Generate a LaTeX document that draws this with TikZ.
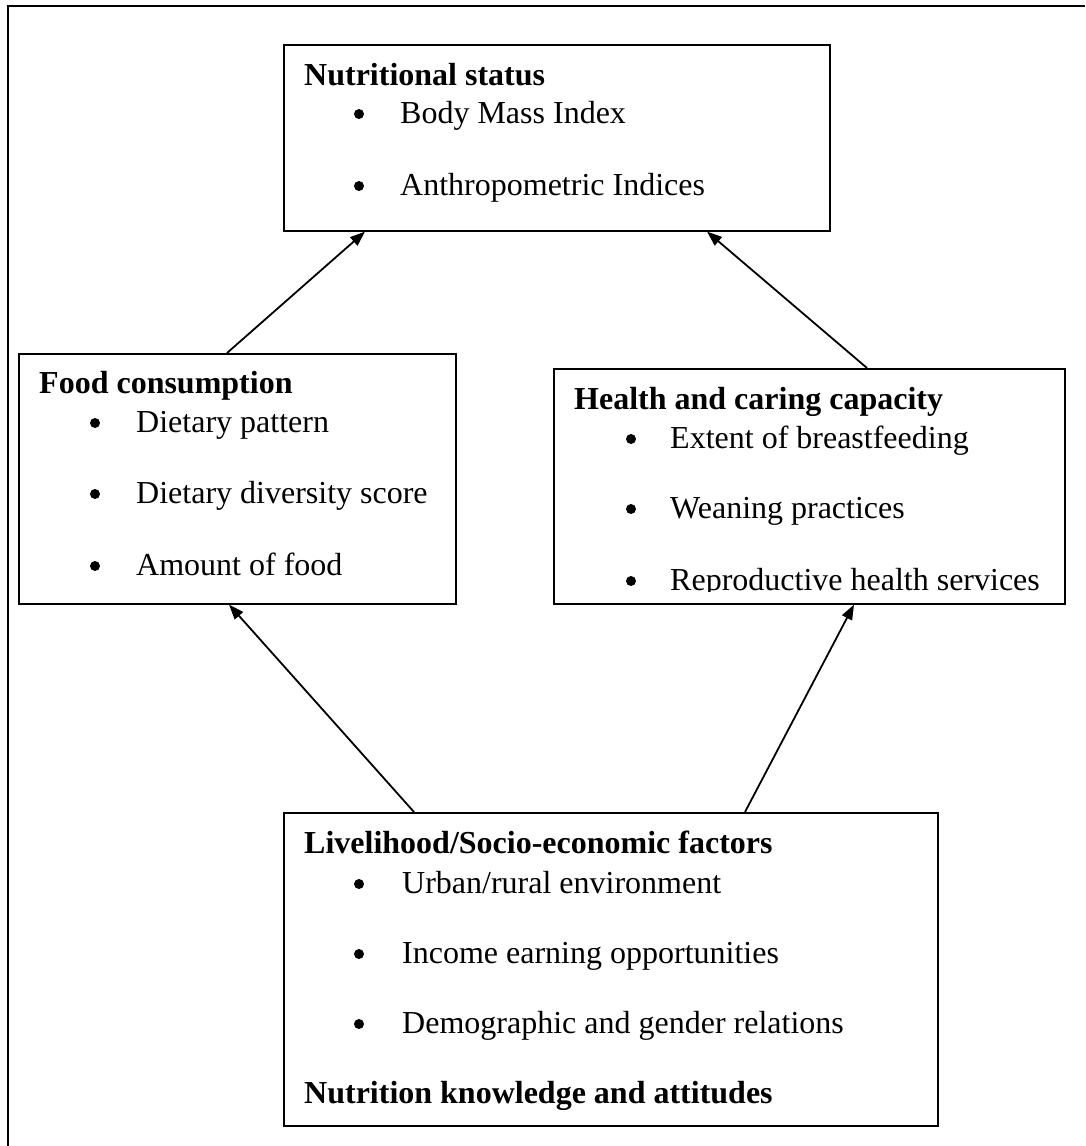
\documentclass[tikz,border=0pt]{standalone}
\usepackage{fontspec}
\setmainfont{Liberation Serif}
\usetikzlibrary{arrows.meta,calc}
\tikzset{
  box/.style={draw=black, line width=1.6pt, rectangle, inner sep=0pt, anchor=north west},
  txt/.style={anchor=base west, inner sep=0pt, font=\fontsize{32}{38}\selectfont},
  ttl/.style={txt, font=\fontsize{32}{38}\selectfont\bfseries},
  arr/.style={line width=1.8pt, -{Triangle[length=15pt,width=11pt]}},
  dot/.style={circle, fill=black, inner sep=0pt, minimum size=10pt}
}
\begin{document}
\begin{tikzpicture}[x=1pt,y=-1pt]
\useasboundingbox (0,0) rectangle (1085,1146);
% page frame (right and bottom sides are outside the picture)
\draw[line width=2pt] (1085,6) -- (8,6) -- (8,1146);

% boxes
\node[box, minimum width=546pt, minimum height=186pt] (nut) at (283,44) {};
\node[box, minimum width=437pt, minimum height=250pt] (food) at (18,353) {};
\node[box, minimum width=511pt, minimum height=235pt] (health) at (553,368) {};
\node[box, minimum width=654pt, minimum height=313pt] (live) at (283,812) {};

% Nutritional status
\node[ttl] (nt) at (304,85) {Nutritional status};
\node[dot] (nb1) at (359,114) {};
\node[txt] (n1) at (400,123) {Body Mass Index};
\node[dot] (nb2) at (359,186) {};
\node[txt] (n2) at (400,195) {Anthropometric Indices};

% Food consumption
\node[ttl] (ft) at (39,393) {Food consumption};
\node[dot] (fb1) at (95,423) {};
\node[txt] (f1) at (136,432) {Dietary pattern};
\node[dot] (fb2) at (95,494) {};
\node[txt] (f2) at (136,503) {Dietary diversity score};
\node[dot] (fb3) at (95,566) {};
\node[txt] (f3) at (136,575) {Amount of food};

% Health and caring capacity
\node[ttl] (ht) at (574,409) {Health and caring capacity};
\node[dot] (hb1) at (631,439) {};
\node[txt] (h1) at (670,448) {Extent of breastfeeding};
\node[dot] (hb2) at (631,509) {};
\node[txt] (h2) at (670,518) {Weaning practices};
\node[dot] (hb3) at (631,581) {};
\begin{scope}
\clip (553,368) rectangle (1064,591);
\node[txt] (h3) at (670,590) {Reproductive health services};
\end{scope}

% Livelihood
\node[ttl] (lt) at (304,853) {Livelihood/Socio-economic factors};
\node[dot] (lb1) at (359,884) {};
\node[txt] (l1) at (402,893) {Urban/rural environment};
\node[dot] (lb2) at (359,954) {};
\node[txt] (l2) at (402,963) {Income earning opportunities};
\node[dot] (lb3) at (359,1024) {};
\node[txt] (l3) at (402,1033) {Demographic and gender relations};
\node[ttl] (lk) at (304,1103) {Nutrition knowledge and attitudes};

% connectors
\draw[arr] ($(food.north west)+(209,0)$) -- ($(nut.south west)+(82,0)$);
\draw[arr] ($(health.north west)+(314,0)$) -- ($(nut.south west)+(424,0)$);
\draw[arr] ($(live.north west)+(131,0)$) -- ($(food.south west)+(211,0)$);
\draw[arr] ($(live.north west)+(462,0)$) -- ($(health.south west)+(301,0)$);
\end{tikzpicture}
\end{document}
